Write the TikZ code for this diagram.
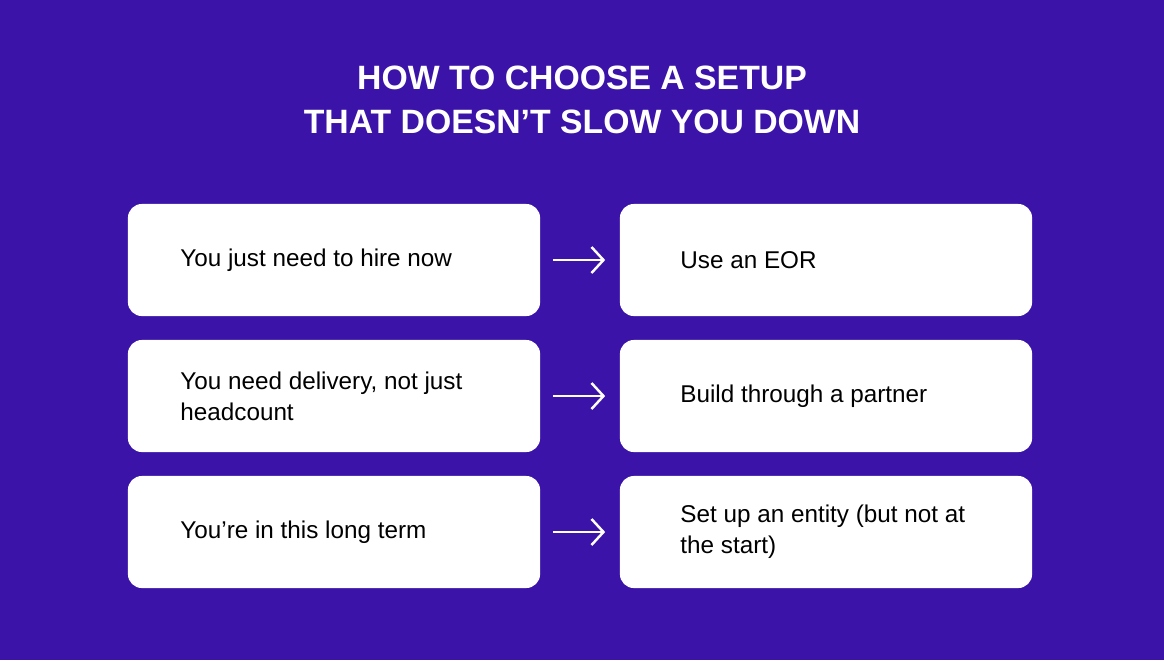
\documentclass[tikz,border=0pt]{standalone}
\usepackage{fontspec}
\setmainfont{Liberation Sans}
\usetikzlibrary{arrows.meta}
\definecolor{bgpurple}{HTML}{3B13A9}

\begin{document}
\begin{tikzpicture}[x=0.01cm,y=-0.01cm,
  card/.style={fill=white,rounded corners=0.14cm,minimum width=4.12cm,minimum height=1.12cm,inner sep=0pt},
  label/.style={anchor=west,align=left,font=\fontsize{6.9}{8.8}\selectfont,text=black},
  title/.style={align=center,text=white,font=\fontsize{9.6}{12.6}\selectfont\bfseries},
  link/.style={-{Straight Barb[length=1.2mm,width=2.6mm]},white,line width=0.7pt}]
  \fill[bgpurple] (0,0) rectangle (1164,660);

  \node[title] (head) at (582,100) {HOW TO CHOOSE A SETUP\\THAT DOESN'T SLOW YOU DOWN};

  % left column
  \node[card] (l1) at (334,260) {};
  \node[card] (l2) at (334,396) {};
  \node[card] (l3) at (334,532) {};
  % right column
  \node[card] (r1) at (826,260) {};
  \node[card] (r2) at (826,396) {};
  \node[card] (r3) at (826,532) {};

  \node[label] at (168,260) {You just need to hire now};
  \node[label] at (168,396) {You need delivery, not just\\headcount};
  \node[label] at (168,532) {You're in this long term};
  \node[label] at (668,260) {Use an EOR};
  \node[label] at (668,396) {Build through a partner};
  \node[label] at (668,532) {Set up an entity (but not at\\the start)};

  \foreach \i in {1,2,3}
    \draw[link] ([xshift=0.12cm]l\i.east) -- ([xshift=-0.14cm]r\i.west);
\end{tikzpicture}
\end{document}
